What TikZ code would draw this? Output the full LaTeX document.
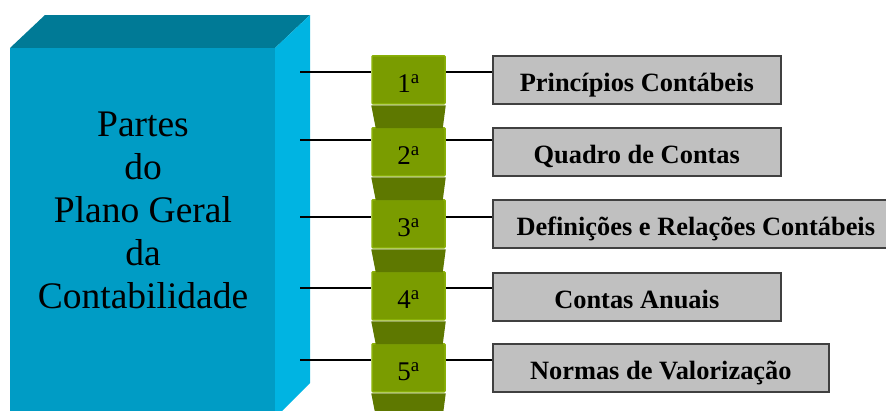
\documentclass[tikz,border=0pt]{standalone}
\usepackage{fontspec}
\setmainfont{Liberation Serif}
\usepackage{xcolor}
\usepackage{tikz}
\definecolor{cubefront}{HTML}{009CC5}
\definecolor{cubetop}{HTML}{007A96}
\definecolor{cubeside}{HTML}{00B4E2}
\definecolor{greenlight}{HTML}{7A9C00}
\definecolor{greenedge}{HTML}{8AB008}
\definecolor{greendark}{HTML}{5E7800}
\definecolor{boxgray}{HTML}{C0C0C0}
\definecolor{boxline}{HTML}{404040}
\tikzstyle{partbox} = [rectangle, fill=greenlight, draw=greenedge, line width=1.5pt,
rounded corners=1pt, minimum width=73pt, minimum height=48pt, anchor=north,
text height=28pt, text depth=2pt, font=\fontsize{27}{30}\selectfont]
\tikzstyle{descbox} = [rectangle, fill=boxgray, draw=boxline, line width=1.6pt,
minimum height=48pt, anchor=north west, text height=26pt, text depth=2pt,
font=\fontsize{26.4}{30}\selectfont\bfseries]
\tikzstyle{link} = [draw=black, line width=1.3pt]

\begin{document}
\begin{tikzpicture}[x=1pt, y=-1pt]
        \useasboundingbox (0,0) rectangle (886,410);
        \clip (0,0) rectangle (886,410);
        \fill[cubetop] (10,48) -- (45,15) -- (310,15) -- (275,48) -- cycle;
        \fill[cubeside] (275,48) -- (310,15) -- (310,383) -- (275,418) -- cycle;
        \fill[cubefront] (10,48) rectangle (275,420);
        \node[align=center, font=\fontsize{37.5}{43}\selectfont] (title) at (143,210)
            {Partes\\do\\Plano Geral\\da\\Contabilidade};

        \node[partbox] (part1) at (408.5,55) {1\textsuperscript{a}};
        \node[partbox] (part2) at (408.5,127) {2\textsuperscript{a}};
        \node[partbox] (part3) at (408.5,199) {3\textsuperscript{a}};
        \node[partbox] (part4) at (408.5,271) {4\textsuperscript{a}};
        \node[partbox] (part5) at (408.5,343) {5\textsuperscript{a}};
        \fill[greendark] ([yshift=-0.8pt]part1.south west) -- ([yshift=-0.8pt]part1.south east) -- ++(-3,23) -- ++(-67,0) -- cycle;
        \fill[greendark] ([yshift=-0.8pt]part2.south west) -- ([yshift=-0.8pt]part2.south east) -- ++(-3,23) -- ++(-67,0) -- cycle;
        \fill[greendark] ([yshift=-0.8pt]part3.south west) -- ([yshift=-0.8pt]part3.south east) -- ++(-3,23) -- ++(-67,0) -- cycle;
        \fill[greendark] ([yshift=-0.8pt]part4.south west) -- ([yshift=-0.8pt]part4.south east) -- ++(-3,23) -- ++(-67,0) -- cycle;
        \fill[greendark] ([yshift=-0.8pt]part5.south west) -- ([yshift=-0.8pt]part5.south east) -- ++(-3,23) -- ++(-67,0) -- cycle;

        \node[descbox, minimum width=288pt] (desc1) at (492,55) {Princípios Contábeis};
        \node[descbox, minimum width=288pt] (desc2) at (492,127) {Quadro de Contas};
        \node[descbox, minimum width=406pt] (desc3) at (492,199) {Definições e Relações Contábeis};
        \node[descbox, minimum width=288pt] (desc4) at (492,272) {Contas Anuais};
        \node[descbox, minimum width=336pt] (desc5) at (492,343) {Normas de Valorização};

        \coordinate (c1) at (300,72);
        \coordinate (c2) at (300,140);
        \coordinate (c3) at (300,217);
        \coordinate (c4) at (300,288);
        \coordinate (c5) at (300,360);
        \draw[link] (c1) -- (c1 -| part1.west);
        \draw[link] (c2) -- (c2 -| part2.west);
        \draw[link] (c3) -- (c3 -| part3.west);
        \draw[link] (c4) -- (c4 -| part4.west);
        \draw[link] (c5) -- (c5 -| part5.west);
        \draw[link] (c1 -| part1.east) -- (c1 -| desc1.west);
        \draw[link] (c2 -| part2.east) -- (c2 -| desc2.west);
        \draw[link] (c3 -| part3.east) -- (c3 -| desc3.west);
        \draw[link] (c4 -| part4.east) -- (c4 -| desc4.west);
        \draw[link] (c5 -| part5.east) -- (c5 -| desc5.west);
    \end{tikzpicture}
\end{document}
